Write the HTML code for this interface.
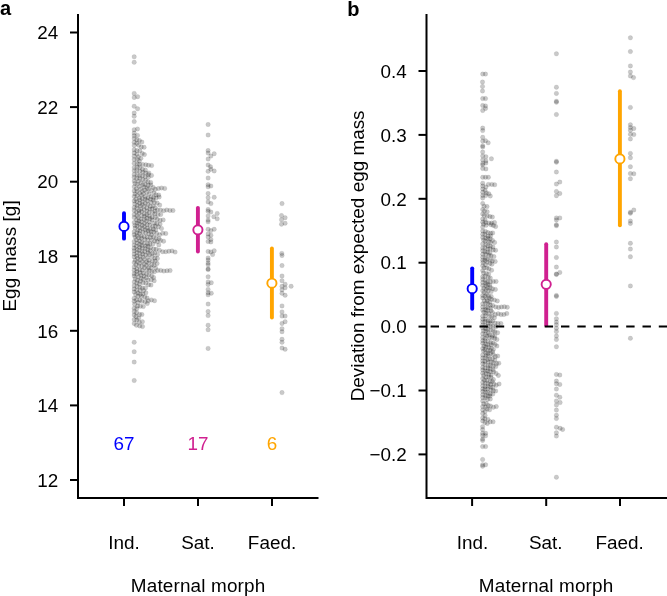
<!DOCTYPE html><html><head><meta charset="utf-8"><style>html,body{margin:0;padding:0;background:#fff;}svg{display:block;will-change:transform;font-family:"Liberation Sans",sans-serif}</style></head><body>
<svg width="667" height="596" viewBox="0 0 667 596">
<text x="0" y="15" font-size="20" font-weight="bold">a</text>
<text x="347.3" y="16" font-size="20" font-weight="bold">b</text>
<g stroke="#000" stroke-width="2" fill="none">
<path d="M78 14 V498 H318.5"/>
<path d="M70 480.0 H78"/>
<path d="M70 405.4 H78"/>
<path d="M70 330.8 H78"/>
<path d="M70 256.3 H78"/>
<path d="M70 181.7 H78"/>
<path d="M70 107.1 H78"/>
<path d="M70 32.5 H78"/>
<path d="M124 498 V506"/>
<path d="M198 498 V506"/>
<path d="M272 498 V506"/>
<path d="M426.5 14 V498 H667"/>
<path d="M418.5 454.4 H426.5"/>
<path d="M418.5 390.5 H426.5"/>
<path d="M418.5 326.6 H426.5"/>
<path d="M418.5 262.7 H426.5"/>
<path d="M418.5 198.8 H426.5"/>
<path d="M418.5 134.9 H426.5"/>
<path d="M418.5 71.0 H426.5"/>
<path d="M472.1 498 V506"/>
<path d="M546.2 498 V506"/>
<path d="M620 498 V506"/>
</g>
<g font-size="18.85" text-anchor="end">
<text x="58.3" y="486.7">12</text>
<text x="58.3" y="412.1">14</text>
<text x="58.3" y="337.5">16</text>
<text x="58.3" y="263.0">18</text>
<text x="58.3" y="188.4">20</text>
<text x="58.3" y="113.8">22</text>
<text x="58.3" y="39.2">24</text>
<text x="406.8" y="461.1">−0.2</text>
<text x="406.8" y="397.2">−0.1</text>
<text x="406.8" y="333.3">0.0</text>
<text x="406.8" y="269.4">0.1</text>
<text x="406.8" y="205.5">0.2</text>
<text x="406.8" y="141.6">0.3</text>
<text x="406.8" y="77.7">0.4</text>
</g>
<g font-size="18.9" text-anchor="middle">
<text x="124" y="549">Ind.</text>
<text x="198" y="549">Sat.</text>
<text x="272" y="549">Faed.</text>
<text x="472.4" y="549">Ind.</text>
<text x="545.8" y="549">Sat.</text>
<text x="619.7" y="549">Faed.</text>
<text x="198.1" y="591.6" letter-spacing="0.16">Maternal morph</text>
<text x="546.1" y="591.6" letter-spacing="0.16">Maternal morph</text>
<text transform="translate(15.9 255.9) rotate(-90)" letter-spacing="0.1">Egg mass [g]</text>
<text transform="translate(363.8 255.9) rotate(-90)">Deviation from expected egg mass</text>
</g>
<g font-size="18.85" text-anchor="middle">
<text x="124" y="450" fill="#0000ff">67</text>
<text x="198" y="450" fill="#d02090">17</text>
<text x="272" y="450" fill="#ffa500">6</text>
</g>
<g fill="#000" fill-opacity="0.21" stroke="#000" stroke-opacity="0.1" stroke-width="0.7"><circle cx="134.2" cy="56.8" r="2.25"/><circle cx="134.2" cy="62.3" r="2.25"/><circle cx="134.2" cy="93.4" r="2.25"/><circle cx="134.2" cy="97.4" r="2.25"/><circle cx="137.6" cy="96.7" r="2.25"/><circle cx="134.2" cy="106.3" r="2.25"/><circle cx="137.6" cy="108.8" r="2.25"/><circle cx="134.2" cy="113.0" r="2.25"/><circle cx="134.2" cy="116.3" r="2.25"/><circle cx="134.2" cy="121.6" r="2.25"/><circle cx="134.2" cy="129.7" r="2.25"/><circle cx="137.5" cy="129.0" r="2.25"/><circle cx="134.2" cy="133.1" r="2.25"/><circle cx="134.2" cy="135.7" r="2.25"/><circle cx="137.5" cy="135.4" r="2.25"/><circle cx="134.2" cy="342.3" r="2.25"/><circle cx="134.2" cy="351.7" r="2.25"/><circle cx="134.2" cy="362.1" r="2.25"/><circle cx="134.2" cy="380.5" r="2.25"/><circle cx="134.2" cy="138.5" r="2.25"/><circle cx="136.8" cy="139.8" r="2.25"/><circle cx="139.4" cy="140.6" r="2.25"/><circle cx="134.2" cy="142.3" r="2.25"/><circle cx="141.9" cy="142.1" r="2.25"/><circle cx="136.8" cy="143.3" r="2.25"/><circle cx="134.2" cy="145.4" r="2.25"/><circle cx="138.6" cy="145.2" r="2.25"/><circle cx="141.3" cy="147.0" r="2.25"/><circle cx="144.1" cy="147.3" r="2.25"/><circle cx="134.2" cy="149.7" r="2.25"/><circle cx="136.9" cy="150.6" r="2.25"/><circle cx="139.8" cy="150.8" r="2.25"/><circle cx="134.2" cy="152.9" r="2.25"/><circle cx="142.2" cy="153.5" r="2.25"/><circle cx="136.9" cy="154.3" r="2.25"/><circle cx="144.4" cy="154.6" r="2.25"/><circle cx="134.2" cy="156.2" r="2.25"/><circle cx="138.4" cy="156.8" r="2.25"/><circle cx="140.9" cy="158.3" r="2.25"/><circle cx="134.2" cy="159.6" r="2.25"/><circle cx="137.2" cy="159.5" r="2.25"/><circle cx="139.4" cy="161.0" r="2.25"/><circle cx="134.2" cy="163.3" r="2.25"/><circle cx="137.2" cy="164.0" r="2.25"/><circle cx="139.5" cy="164.3" r="2.25"/><circle cx="142.7" cy="164.5" r="2.25"/><circle cx="145.8" cy="164.8" r="2.25"/><circle cx="148.5" cy="165.3" r="2.25"/><circle cx="134.2" cy="167.4" r="2.25"/><circle cx="137.1" cy="167.2" r="2.25"/><circle cx="139.8" cy="167.6" r="2.25"/><circle cx="142.5" cy="169.3" r="2.25"/><circle cx="145.4" cy="170.0" r="2.25"/><circle cx="134.2" cy="170.7" r="2.25"/><circle cx="136.8" cy="170.7" r="2.25"/><circle cx="139.8" cy="171.2" r="2.25"/><circle cx="142.7" cy="172.3" r="2.25"/><circle cx="145.6" cy="173.0" r="2.25"/><circle cx="148.8" cy="172.9" r="2.25"/><circle cx="134.2" cy="174.6" r="2.25"/><circle cx="137.3" cy="174.8" r="2.25"/><circle cx="139.6" cy="175.7" r="2.25"/><circle cx="142.5" cy="175.7" r="2.25"/><circle cx="145.2" cy="176.7" r="2.25"/><circle cx="148.3" cy="177.3" r="2.25"/><circle cx="134.2" cy="177.2" r="2.25"/><circle cx="136.7" cy="178.6" r="2.25"/><circle cx="139.8" cy="178.3" r="2.25"/><circle cx="142.8" cy="179.6" r="2.25"/><circle cx="145.5" cy="180.6" r="2.25"/><circle cx="134.2" cy="181.1" r="2.25"/><circle cx="138.4" cy="181.2" r="2.25"/><circle cx="147.9" cy="181.8" r="2.25"/><circle cx="150.7" cy="182.4" r="2.25"/><circle cx="141.1" cy="182.8" r="2.25"/><circle cx="134.9" cy="183.4" r="2.25"/><circle cx="137.4" cy="184.2" r="2.25"/><circle cx="142.8" cy="184.7" r="2.25"/><circle cx="145.2" cy="184.4" r="2.25"/><circle cx="148.1" cy="185.3" r="2.25"/><circle cx="150.8" cy="185.1" r="2.25"/><circle cx="139.3" cy="186.4" r="2.25"/><circle cx="134.2" cy="186.8" r="2.25"/><circle cx="144.0" cy="187.1" r="2.25"/><circle cx="153.3" cy="187.6" r="2.25"/><circle cx="147.0" cy="188.0" r="2.25"/><circle cx="136.3" cy="188.8" r="2.25"/><circle cx="140.5" cy="189.0" r="2.25"/><circle cx="148.6" cy="189.1" r="2.25"/><circle cx="155.3" cy="189.3" r="2.25"/><circle cx="144.6" cy="189.9" r="2.25"/><circle cx="134.2" cy="191.0" r="2.25"/><circle cx="151.4" cy="190.5" r="2.25"/><circle cx="137.2" cy="191.2" r="2.25"/><circle cx="142.3" cy="191.3" r="2.25"/><circle cx="146.8" cy="192.3" r="2.25"/><circle cx="153.9" cy="193.1" r="2.25"/><circle cx="139.5" cy="193.2" r="2.25"/><circle cx="134.9" cy="193.9" r="2.25"/><circle cx="143.4" cy="193.8" r="2.25"/><circle cx="149.1" cy="193.9" r="2.25"/><circle cx="155.9" cy="194.7" r="2.25"/><circle cx="158.7" cy="194.9" r="2.25"/><circle cx="137.1" cy="195.4" r="2.25"/><circle cx="141.4" cy="195.3" r="2.25"/><circle cx="145.3" cy="196.6" r="2.25"/><circle cx="151.1" cy="196.7" r="2.25"/><circle cx="134.2" cy="196.4" r="2.25"/><circle cx="153.7" cy="197.4" r="2.25"/><circle cx="139.3" cy="197.9" r="2.25"/><circle cx="148.0" cy="197.9" r="2.25"/><circle cx="142.4" cy="198.5" r="2.25"/><circle cx="156.1" cy="198.1" r="2.25"/><circle cx="135.8" cy="199.2" r="2.25"/><circle cx="145.2" cy="199.1" r="2.25"/><circle cx="150.5" cy="199.3" r="2.25"/><circle cx="153.1" cy="200.1" r="2.25"/><circle cx="139.9" cy="200.1" r="2.25"/><circle cx="147.1" cy="200.6" r="2.25"/><circle cx="134.2" cy="200.9" r="2.25"/><circle cx="142.5" cy="201.7" r="2.25"/><circle cx="137.0" cy="201.8" r="2.25"/><circle cx="150.8" cy="202.3" r="2.25"/><circle cx="154.3" cy="202.6" r="2.25"/><circle cx="157.2" cy="203.1" r="2.25"/><circle cx="139.5" cy="203.3" r="2.25"/><circle cx="145.3" cy="203.2" r="2.25"/><circle cx="134.7" cy="204.1" r="2.25"/><circle cx="147.9" cy="204.2" r="2.25"/><circle cx="142.3" cy="204.4" r="2.25"/><circle cx="159.7" cy="205.1" r="2.25"/><circle cx="137.3" cy="205.6" r="2.25"/><circle cx="150.3" cy="206.2" r="2.25"/><circle cx="153.3" cy="206.0" r="2.25"/><circle cx="140.3" cy="206.1" r="2.25"/><circle cx="144.1" cy="206.5" r="2.25"/><circle cx="134.2" cy="207.4" r="2.25"/><circle cx="146.8" cy="207.8" r="2.25"/><circle cx="155.2" cy="207.7" r="2.25"/><circle cx="136.8" cy="208.1" r="2.25"/><circle cx="140.9" cy="209.0" r="2.25"/><circle cx="149.8" cy="208.9" r="2.25"/><circle cx="152.0" cy="209.1" r="2.25"/><circle cx="144.2" cy="209.7" r="2.25"/><circle cx="157.3" cy="209.9" r="2.25"/><circle cx="134.2" cy="210.4" r="2.25"/><circle cx="139.0" cy="210.8" r="2.25"/><circle cx="155.0" cy="211.0" r="2.25"/><circle cx="146.9" cy="210.9" r="2.25"/><circle cx="141.7" cy="211.6" r="2.25"/><circle cx="136.5" cy="212.1" r="2.25"/><circle cx="149.0" cy="212.5" r="2.25"/><circle cx="152.5" cy="212.7" r="2.25"/><circle cx="139.1" cy="213.1" r="2.25"/><circle cx="144.2" cy="213.9" r="2.25"/><circle cx="154.8" cy="213.9" r="2.25"/><circle cx="134.2" cy="214.4" r="2.25"/><circle cx="146.8" cy="214.7" r="2.25"/><circle cx="158.0" cy="214.6" r="2.25"/><circle cx="160.7" cy="214.5" r="2.25"/><circle cx="136.9" cy="215.7" r="2.25"/><circle cx="141.5" cy="215.6" r="2.25"/><circle cx="149.3" cy="216.0" r="2.25"/><circle cx="144.5" cy="216.2" r="2.25"/><circle cx="152.1" cy="217.3" r="2.25"/><circle cx="155.3" cy="217.4" r="2.25"/><circle cx="134.2" cy="217.6" r="2.25"/><circle cx="138.4" cy="217.5" r="2.25"/><circle cx="147.0" cy="218.2" r="2.25"/><circle cx="141.1" cy="219.1" r="2.25"/><circle cx="150.0" cy="218.6" r="2.25"/><circle cx="157.2" cy="219.3" r="2.25"/><circle cx="144.4" cy="219.3" r="2.25"/><circle cx="136.5" cy="220.0" r="2.25"/><circle cx="152.1" cy="220.1" r="2.25"/><circle cx="160.1" cy="220.2" r="2.25"/><circle cx="138.8" cy="221.0" r="2.25"/><circle cx="146.3" cy="221.0" r="2.25"/><circle cx="141.6" cy="221.8" r="2.25"/><circle cx="149.5" cy="221.9" r="2.25"/><circle cx="134.2" cy="222.5" r="2.25"/><circle cx="154.4" cy="222.9" r="2.25"/><circle cx="137.4" cy="223.0" r="2.25"/><circle cx="144.4" cy="223.2" r="2.25"/><circle cx="156.7" cy="223.5" r="2.25"/><circle cx="160.1" cy="224.1" r="2.25"/><circle cx="139.5" cy="224.1" r="2.25"/><circle cx="147.0" cy="224.7" r="2.25"/><circle cx="149.9" cy="224.9" r="2.25"/><circle cx="134.8" cy="225.4" r="2.25"/><circle cx="142.1" cy="225.3" r="2.25"/><circle cx="152.8" cy="226.4" r="2.25"/><circle cx="137.0" cy="226.0" r="2.25"/><circle cx="155.4" cy="226.1" r="2.25"/><circle cx="144.4" cy="226.6" r="2.25"/><circle cx="158.4" cy="226.8" r="2.25"/><circle cx="139.7" cy="227.8" r="2.25"/><circle cx="147.3" cy="228.3" r="2.25"/><circle cx="135.0" cy="228.1" r="2.25"/><circle cx="142.4" cy="228.5" r="2.25"/><circle cx="149.9" cy="229.2" r="2.25"/><circle cx="153.4" cy="229.0" r="2.25"/><circle cx="137.8" cy="229.9" r="2.25"/><circle cx="155.8" cy="230.0" r="2.25"/><circle cx="145.3" cy="229.8" r="2.25"/><circle cx="140.0" cy="231.0" r="2.25"/><circle cx="148.2" cy="230.7" r="2.25"/><circle cx="134.2" cy="231.8" r="2.25"/><circle cx="151.2" cy="231.6" r="2.25"/><circle cx="142.8" cy="231.9" r="2.25"/><circle cx="153.7" cy="232.1" r="2.25"/><circle cx="136.9" cy="232.7" r="2.25"/><circle cx="145.7" cy="232.7" r="2.25"/><circle cx="156.7" cy="233.4" r="2.25"/><circle cx="139.3" cy="233.7" r="2.25"/><circle cx="148.7" cy="233.7" r="2.25"/><circle cx="159.5" cy="234.8" r="2.25"/><circle cx="134.2" cy="234.7" r="2.25"/><circle cx="151.4" cy="234.7" r="2.25"/><circle cx="137.1" cy="235.8" r="2.25"/><circle cx="141.3" cy="236.0" r="2.25"/><circle cx="144.2" cy="236.6" r="2.25"/><circle cx="153.6" cy="236.8" r="2.25"/><circle cx="147.2" cy="237.1" r="2.25"/><circle cx="135.0" cy="237.0" r="2.25"/><circle cx="138.6" cy="238.0" r="2.25"/><circle cx="150.4" cy="237.5" r="2.25"/><circle cx="156.1" cy="238.2" r="2.25"/><circle cx="159.0" cy="238.7" r="2.25"/><circle cx="141.5" cy="238.2" r="2.25"/><circle cx="136.4" cy="239.9" r="2.25"/><circle cx="144.8" cy="239.5" r="2.25"/><circle cx="147.7" cy="240.0" r="2.25"/><circle cx="151.4" cy="240.0" r="2.25"/><circle cx="139.6" cy="240.9" r="2.25"/><circle cx="160.5" cy="240.5" r="2.25"/><circle cx="154.7" cy="241.0" r="2.25"/><circle cx="134.2" cy="241.5" r="2.25"/><circle cx="141.7" cy="242.2" r="2.25"/><circle cx="157.2" cy="241.8" r="2.25"/><circle cx="137.3" cy="242.9" r="2.25"/><circle cx="144.1" cy="243.3" r="2.25"/><circle cx="147.7" cy="243.7" r="2.25"/><circle cx="149.9" cy="243.5" r="2.25"/><circle cx="139.5" cy="244.6" r="2.25"/><circle cx="153.0" cy="244.0" r="2.25"/><circle cx="158.8" cy="244.9" r="2.25"/><circle cx="134.2" cy="244.9" r="2.25"/><circle cx="141.7" cy="245.6" r="2.25"/><circle cx="145.7" cy="246.1" r="2.25"/><circle cx="136.3" cy="246.3" r="2.25"/><circle cx="148.0" cy="246.3" r="2.25"/><circle cx="139.6" cy="247.3" r="2.25"/><circle cx="150.5" cy="247.5" r="2.25"/><circle cx="134.2" cy="248.2" r="2.25"/><circle cx="142.3" cy="248.0" r="2.25"/><circle cx="145.2" cy="248.5" r="2.25"/><circle cx="153.7" cy="249.0" r="2.25"/><circle cx="156.1" cy="249.2" r="2.25"/><circle cx="137.0" cy="249.5" r="2.25"/><circle cx="147.9" cy="250.1" r="2.25"/><circle cx="159.4" cy="250.3" r="2.25"/><circle cx="139.3" cy="250.3" r="2.25"/><circle cx="150.2" cy="250.6" r="2.25"/><circle cx="134.2" cy="250.8" r="2.25"/><circle cx="141.8" cy="251.5" r="2.25"/><circle cx="144.8" cy="251.6" r="2.25"/><circle cx="136.9" cy="252.8" r="2.25"/><circle cx="148.0" cy="252.7" r="2.25"/><circle cx="152.4" cy="253.4" r="2.25"/><circle cx="154.8" cy="252.9" r="2.25"/><circle cx="139.5" cy="253.6" r="2.25"/><circle cx="134.2" cy="254.0" r="2.25"/><circle cx="142.9" cy="253.9" r="2.25"/><circle cx="157.5" cy="254.4" r="2.25"/><circle cx="149.6" cy="254.6" r="2.25"/><circle cx="145.6" cy="255.0" r="2.25"/><circle cx="136.7" cy="255.9" r="2.25"/><circle cx="152.2" cy="256.6" r="2.25"/><circle cx="140.2" cy="256.5" r="2.25"/><circle cx="134.2" cy="256.9" r="2.25"/><circle cx="142.9" cy="257.1" r="2.25"/><circle cx="147.6" cy="257.4" r="2.25"/><circle cx="154.9" cy="258.0" r="2.25"/><circle cx="157.4" cy="258.4" r="2.25"/><circle cx="137.6" cy="258.3" r="2.25"/><circle cx="140.3" cy="259.6" r="2.25"/><circle cx="144.4" cy="259.4" r="2.25"/><circle cx="149.1" cy="260.2" r="2.25"/><circle cx="135.2" cy="260.3" r="2.25"/><circle cx="152.5" cy="260.9" r="2.25"/><circle cx="155.2" cy="261.1" r="2.25"/><circle cx="137.5" cy="261.7" r="2.25"/><circle cx="142.2" cy="261.6" r="2.25"/><circle cx="146.5" cy="261.8" r="2.25"/><circle cx="134.2" cy="262.6" r="2.25"/><circle cx="148.5" cy="263.1" r="2.25"/><circle cx="157.1" cy="263.4" r="2.25"/><circle cx="139.5" cy="263.2" r="2.25"/><circle cx="144.2" cy="264.1" r="2.25"/><circle cx="151.9" cy="264.4" r="2.25"/><circle cx="135.9" cy="264.7" r="2.25"/><circle cx="146.4" cy="265.6" r="2.25"/><circle cx="154.1" cy="265.3" r="2.25"/><circle cx="138.8" cy="266.1" r="2.25"/><circle cx="141.9" cy="266.3" r="2.25"/><circle cx="134.2" cy="266.9" r="2.25"/><circle cx="148.7" cy="267.5" r="2.25"/><circle cx="144.4" cy="267.7" r="2.25"/><circle cx="151.0" cy="267.7" r="2.25"/><circle cx="155.6" cy="268.1" r="2.25"/><circle cx="136.8" cy="268.9" r="2.25"/><circle cx="139.8" cy="270.0" r="2.25"/><circle cx="146.8" cy="269.9" r="2.25"/><circle cx="134.2" cy="270.2" r="2.25"/><circle cx="142.3" cy="270.3" r="2.25"/><circle cx="149.3" cy="270.7" r="2.25"/><circle cx="151.9" cy="271.4" r="2.25"/><circle cx="136.8" cy="271.5" r="2.25"/><circle cx="154.4" cy="271.8" r="2.25"/><circle cx="139.9" cy="272.8" r="2.25"/><circle cx="143.4" cy="273.1" r="2.25"/><circle cx="134.2" cy="273.7" r="2.25"/><circle cx="146.5" cy="274.1" r="2.25"/><circle cx="136.8" cy="274.2" r="2.25"/><circle cx="141.1" cy="275.2" r="2.25"/><circle cx="148.9" cy="274.9" r="2.25"/><circle cx="151.6" cy="275.9" r="2.25"/><circle cx="143.9" cy="276.1" r="2.25"/><circle cx="134.2" cy="276.0" r="2.25"/><circle cx="138.5" cy="276.8" r="2.25"/><circle cx="146.4" cy="277.8" r="2.25"/><circle cx="153.6" cy="277.4" r="2.25"/><circle cx="141.2" cy="278.5" r="2.25"/><circle cx="135.1" cy="278.8" r="2.25"/><circle cx="143.5" cy="279.2" r="2.25"/><circle cx="148.0" cy="280.1" r="2.25"/><circle cx="151.3" cy="279.7" r="2.25"/><circle cx="137.4" cy="280.1" r="2.25"/><circle cx="154.2" cy="280.7" r="2.25"/><circle cx="140.3" cy="281.3" r="2.25"/><circle cx="134.2" cy="281.9" r="2.25"/><circle cx="143.1" cy="282.8" r="2.25"/><circle cx="136.8" cy="283.0" r="2.25"/><circle cx="145.9" cy="283.1" r="2.25"/><circle cx="139.3" cy="284.0" r="2.25"/><circle cx="148.6" cy="284.7" r="2.25"/><circle cx="151.0" cy="285.1" r="2.25"/><circle cx="134.2" cy="285.8" r="2.25"/><circle cx="137.0" cy="286.6" r="2.25"/><circle cx="139.9" cy="287.3" r="2.25"/><circle cx="142.4" cy="288.1" r="2.25"/><circle cx="145.5" cy="288.0" r="2.25"/><circle cx="134.2" cy="289.0" r="2.25"/><circle cx="136.7" cy="290.3" r="2.25"/><circle cx="140.0" cy="290.4" r="2.25"/><circle cx="143.6" cy="290.6" r="2.25"/><circle cx="134.2" cy="291.9" r="2.25"/><circle cx="145.9" cy="292.8" r="2.25"/><circle cx="138.1" cy="293.0" r="2.25"/><circle cx="140.3" cy="294.3" r="2.25"/><circle cx="142.9" cy="294.0" r="2.25"/><circle cx="135.6" cy="294.6" r="2.25"/><circle cx="138.0" cy="296.2" r="2.25"/><circle cx="141.5" cy="296.4" r="2.25"/><circle cx="144.8" cy="296.9" r="2.25"/><circle cx="134.2" cy="298.3" r="2.25"/><circle cx="147.1" cy="298.0" r="2.25"/><circle cx="136.5" cy="299.7" r="2.25"/><circle cx="139.8" cy="299.9" r="2.25"/><circle cx="141.9" cy="301.3" r="2.25"/><circle cx="134.2" cy="301.3" r="2.25"/><circle cx="145.1" cy="301.8" r="2.25"/><circle cx="137.9" cy="302.5" r="2.25"/><circle cx="147.3" cy="303.5" r="2.25"/><circle cx="134.6" cy="304.2" r="2.25"/><circle cx="137.6" cy="305.9" r="2.25"/><circle cx="140.4" cy="306.2" r="2.25"/><circle cx="143.3" cy="306.5" r="2.25"/><circle cx="134.2" cy="308.3" r="2.25"/><circle cx="136.8" cy="308.7" r="2.25"/><circle cx="134.2" cy="311.6" r="2.25"/><circle cx="136.6" cy="312.8" r="2.25"/><circle cx="139.5" cy="314.4" r="2.25"/><circle cx="134.2" cy="315.0" r="2.25"/><circle cx="141.9" cy="314.6" r="2.25"/><circle cx="136.0" cy="316.5" r="2.25"/><circle cx="138.8" cy="318.1" r="2.25"/><circle cx="134.2" cy="319.6" r="2.25"/><circle cx="136.8" cy="320.1" r="2.25"/><circle cx="139.3" cy="322.2" r="2.25"/><circle cx="142.4" cy="321.7" r="2.25"/><circle cx="134.2" cy="323.4" r="2.25"/><circle cx="136.4" cy="325.2" r="2.25"/><circle cx="139.7" cy="325.9" r="2.25"/><circle cx="142.5" cy="326.5" r="2.25"/><circle cx="151.6" cy="165.5" r="2.25"/><circle cx="148.4" cy="174.7" r="2.25"/><circle cx="151.5" cy="175.4" r="2.25"/><circle cx="158.4" cy="188.6" r="2.25"/><circle cx="161.5" cy="188.0" r="2.25"/><circle cx="164.7" cy="188.4" r="2.25"/><circle cx="159.2" cy="197.0" r="2.25"/><circle cx="160.5" cy="210.1" r="2.25"/><circle cx="163.6" cy="210.8" r="2.25"/><circle cx="166.7" cy="210.0" r="2.25"/><circle cx="169.9" cy="210.4" r="2.25"/><circle cx="173.0" cy="210.5" r="2.25"/><circle cx="163.2" cy="219.9" r="2.25"/><circle cx="161.5" cy="228.4" r="2.25"/><circle cx="162.7" cy="233.3" r="2.25"/><circle cx="165.8" cy="233.5" r="2.25"/><circle cx="163.6" cy="241.2" r="2.25"/><circle cx="162.6" cy="251.7" r="2.25"/><circle cx="165.7" cy="251.7" r="2.25"/><circle cx="168.9" cy="251.3" r="2.25"/><circle cx="172.0" cy="250.9" r="2.25"/><circle cx="175.1" cy="252.1" r="2.25"/><circle cx="157.6" cy="270.4" r="2.25"/><circle cx="160.7" cy="270.4" r="2.25"/><circle cx="163.8" cy="271.1" r="2.25"/><circle cx="167.0" cy="270.7" r="2.25"/><circle cx="170.1" cy="270.6" r="2.25"/><circle cx="148.3" cy="300.8" r="2.25"/><circle cx="151.4" cy="299.9" r="2.25"/><circle cx="154.5" cy="300.7" r="2.25"/><circle cx="208.1" cy="124.5" r="2.25"/><circle cx="208.1" cy="135.0" r="2.25"/><circle cx="208.1" cy="150.6" r="2.25"/><circle cx="208.1" cy="153.1" r="2.25"/><circle cx="214.2" cy="153.7" r="2.25"/><circle cx="210.9" cy="156.1" r="2.25"/><circle cx="208.1" cy="159.0" r="2.25"/><circle cx="208.1" cy="165.0" r="2.25"/><circle cx="210.5" cy="166.7" r="2.25"/><circle cx="210.9" cy="169.2" r="2.25"/><circle cx="214.2" cy="170.9" r="2.25"/><circle cx="208.1" cy="171.3" r="2.25"/><circle cx="208.1" cy="178.0" r="2.25"/><circle cx="208.1" cy="184.7" r="2.25"/><circle cx="210.9" cy="186.0" r="2.25"/><circle cx="208.1" cy="186.8" r="2.25"/><circle cx="208.1" cy="193.5" r="2.25"/><circle cx="208.1" cy="197.7" r="2.25"/><circle cx="214.2" cy="197.3" r="2.25"/><circle cx="208.1" cy="201.9" r="2.25"/><circle cx="210.9" cy="203.6" r="2.25"/><circle cx="208.1" cy="209.5" r="2.25"/><circle cx="208.1" cy="211.3" r="2.25"/><circle cx="210.9" cy="212.1" r="2.25"/><circle cx="217.2" cy="213.4" r="2.25"/><circle cx="208.1" cy="215.9" r="2.25"/><circle cx="213.8" cy="216.7" r="2.25"/><circle cx="217.2" cy="218.8" r="2.25"/><circle cx="208.1" cy="220.1" r="2.25"/><circle cx="208.1" cy="221.8" r="2.25"/><circle cx="208.1" cy="229.3" r="2.25"/><circle cx="210.9" cy="230.6" r="2.25"/><circle cx="214.2" cy="229.3" r="2.25"/><circle cx="208.1" cy="233.9" r="2.25"/><circle cx="210.9" cy="235.2" r="2.25"/><circle cx="208.1" cy="236.9" r="2.25"/><circle cx="210.9" cy="239.4" r="2.25"/><circle cx="208.1" cy="241.5" r="2.25"/><circle cx="210.9" cy="241.9" r="2.25"/><circle cx="208.1" cy="251.5" r="2.25"/><circle cx="210.9" cy="251.9" r="2.25"/><circle cx="214.2" cy="250.7" r="2.25"/><circle cx="212.6" cy="254.6" r="2.25"/><circle cx="208.1" cy="258.0" r="2.25"/><circle cx="208.1" cy="260.0" r="2.25"/><circle cx="208.1" cy="263.0" r="2.25"/><circle cx="208.1" cy="264.7" r="2.25"/><circle cx="208.1" cy="269.0" r="2.25"/><circle cx="208.1" cy="269.6" r="2.25"/><circle cx="208.1" cy="276.8" r="2.25"/><circle cx="208.1" cy="281.9" r="2.25"/><circle cx="211.3" cy="282.7" r="2.25"/><circle cx="208.1" cy="284.4" r="2.25"/><circle cx="208.1" cy="289.4" r="2.25"/><circle cx="208.1" cy="292.7" r="2.25"/><circle cx="211.3" cy="293.2" r="2.25"/><circle cx="208.1" cy="294.8" r="2.25"/><circle cx="208.1" cy="304.1" r="2.25"/><circle cx="208.1" cy="311.6" r="2.25"/><circle cx="208.1" cy="315.6" r="2.25"/><circle cx="208.1" cy="325.2" r="2.25"/><circle cx="208.1" cy="329.7" r="2.25"/><circle cx="208.1" cy="348.4" r="2.25"/><circle cx="282.0" cy="203.6" r="2.25"/><circle cx="281.5" cy="215.6" r="2.25"/><circle cx="285.1" cy="217.7" r="2.25"/><circle cx="281.5" cy="219.7" r="2.25"/><circle cx="285.1" cy="223.2" r="2.25"/><circle cx="281.5" cy="224.2" r="2.25"/><circle cx="281.8" cy="253.4" r="2.25"/><circle cx="282.0" cy="255.5" r="2.25"/><circle cx="282.0" cy="265.6" r="2.25"/><circle cx="282.0" cy="276.0" r="2.25"/><circle cx="282.0" cy="280.7" r="2.25"/><circle cx="285.1" cy="284.2" r="2.25"/><circle cx="291.1" cy="286.3" r="2.25"/><circle cx="282.0" cy="286.3" r="2.25"/><circle cx="285.1" cy="287.8" r="2.25"/><circle cx="282.0" cy="289.8" r="2.25"/><circle cx="282.0" cy="293.3" r="2.25"/><circle cx="285.1" cy="295.3" r="2.25"/><circle cx="282.0" cy="305.9" r="2.25"/><circle cx="282.0" cy="311.9" r="2.25"/><circle cx="282.0" cy="316.1" r="2.25"/><circle cx="285.1" cy="316.1" r="2.25"/><circle cx="285.1" cy="321.7" r="2.25"/><circle cx="282.0" cy="323.4" r="2.25"/><circle cx="282.0" cy="328.7" r="2.25"/><circle cx="282.0" cy="331.7" r="2.25"/><circle cx="282.0" cy="339.3" r="2.25"/><circle cx="282.0" cy="342.3" r="2.25"/><circle cx="282.0" cy="348.1" r="2.25"/><circle cx="285.1" cy="349.3" r="2.25"/><circle cx="282.0" cy="392.6" r="2.25"/><circle cx="482.7" cy="74.1" r="2.25"/><circle cx="485.5" cy="74.1" r="2.25"/><circle cx="482.5" cy="82.0" r="2.25"/><circle cx="482.5" cy="86.4" r="2.25"/><circle cx="482.5" cy="91.0" r="2.25"/><circle cx="482.7" cy="98.6" r="2.25"/><circle cx="485.5" cy="98.6" r="2.25"/><circle cx="482.7" cy="105.5" r="2.25"/><circle cx="485.5" cy="105.9" r="2.25"/><circle cx="485.5" cy="108.4" r="2.25"/><circle cx="482.7" cy="110.5" r="2.25"/><circle cx="482.7" cy="128.1" r="2.25"/><circle cx="482.7" cy="130.6" r="2.25"/><circle cx="482.7" cy="137.3" r="2.25"/><circle cx="482.7" cy="141.1" r="2.25"/><circle cx="485.5" cy="140.7" r="2.25"/><circle cx="488.2" cy="142.8" r="2.25"/><circle cx="482.7" cy="145.7" r="2.25"/><circle cx="482.7" cy="147.0" r="2.25"/><circle cx="482.7" cy="152.1" r="2.25"/><circle cx="482.7" cy="155.9" r="2.25"/><circle cx="485.9" cy="156.7" r="2.25"/><circle cx="491.4" cy="158.8" r="2.25"/><circle cx="482.7" cy="160.1" r="2.25"/><circle cx="485.9" cy="160.9" r="2.25"/><circle cx="482.7" cy="163.5" r="2.25"/><circle cx="485.9" cy="163.0" r="2.25"/><circle cx="482.7" cy="165.1" r="2.25"/><circle cx="482.7" cy="168.5" r="2.25"/><circle cx="485.9" cy="168.9" r="2.25"/><circle cx="482.7" cy="177.3" r="2.25"/><circle cx="485.5" cy="177.3" r="2.25"/><circle cx="488.4" cy="177.3" r="2.25"/><circle cx="482.7" cy="183.2" r="2.25"/><circle cx="488.4" cy="184.4" r="2.25"/><circle cx="491.8" cy="184.4" r="2.25"/><circle cx="494.7" cy="184.8" r="2.25"/><circle cx="482.7" cy="186.1" r="2.25"/><circle cx="485.9" cy="187.0" r="2.25"/><circle cx="482.6" cy="426.7" r="2.25"/><circle cx="482.6" cy="429.6" r="2.25"/><circle cx="482.6" cy="433.2" r="2.25"/><circle cx="485.6" cy="433.2" r="2.25"/><circle cx="482.6" cy="435.5" r="2.25"/><circle cx="485.6" cy="435.8" r="2.25"/><circle cx="482.6" cy="439.0" r="2.25"/><circle cx="482.6" cy="440.4" r="2.25"/><circle cx="482.6" cy="446.6" r="2.25"/><circle cx="485.6" cy="446.6" r="2.25"/><circle cx="482.6" cy="459.5" r="2.25"/><circle cx="482.6" cy="464.8" r="2.25"/><circle cx="485.6" cy="464.8" r="2.25"/><circle cx="482.6" cy="466.2" r="2.25"/><circle cx="482.7" cy="189.0" r="2.25"/><circle cx="485.1" cy="190.5" r="2.25"/><circle cx="482.7" cy="192.3" r="2.25"/><circle cx="486.4" cy="193.0" r="2.25"/><circle cx="488.8" cy="193.8" r="2.25"/><circle cx="482.7" cy="195.5" r="2.25"/><circle cx="485.7" cy="195.6" r="2.25"/><circle cx="490.3" cy="196.0" r="2.25"/><circle cx="482.7" cy="198.0" r="2.25"/><circle cx="482.7" cy="203.5" r="2.25"/><circle cx="484.1" cy="206.3" r="2.25"/><circle cx="487.0" cy="206.6" r="2.25"/><circle cx="482.7" cy="209.5" r="2.25"/><circle cx="484.5" cy="211.1" r="2.25"/><circle cx="487.2" cy="211.8" r="2.25"/><circle cx="482.7" cy="214.0" r="2.25"/><circle cx="484.3" cy="215.4" r="2.25"/><circle cx="487.2" cy="215.9" r="2.25"/><circle cx="489.9" cy="216.6" r="2.25"/><circle cx="492.4" cy="217.1" r="2.25"/><circle cx="482.7" cy="219.0" r="2.25"/><circle cx="485.1" cy="220.1" r="2.25"/><circle cx="482.7" cy="222.2" r="2.25"/><circle cx="485.8" cy="222.6" r="2.25"/><circle cx="488.7" cy="222.9" r="2.25"/><circle cx="483.5" cy="224.2" r="2.25"/><circle cx="491.0" cy="224.7" r="2.25"/><circle cx="486.2" cy="225.2" r="2.25"/><circle cx="493.4" cy="225.5" r="2.25"/><circle cx="495.6" cy="226.5" r="2.25"/><circle cx="482.7" cy="227.1" r="2.25"/><circle cx="482.7" cy="230.9" r="2.25"/><circle cx="485.4" cy="231.4" r="2.25"/><circle cx="487.8" cy="232.6" r="2.25"/><circle cx="490.6" cy="233.2" r="2.25"/><circle cx="492.7" cy="232.9" r="2.25"/><circle cx="482.7" cy="234.3" r="2.25"/><circle cx="485.0" cy="234.6" r="2.25"/><circle cx="487.9" cy="236.3" r="2.25"/><circle cx="490.6" cy="236.1" r="2.25"/><circle cx="482.7" cy="237.4" r="2.25"/><circle cx="485.7" cy="238.0" r="2.25"/><circle cx="487.9" cy="238.5" r="2.25"/><circle cx="490.2" cy="238.7" r="2.25"/><circle cx="483.5" cy="239.9" r="2.25"/><circle cx="492.5" cy="240.4" r="2.25"/><circle cx="485.3" cy="241.3" r="2.25"/><circle cx="488.5" cy="241.8" r="2.25"/><circle cx="494.6" cy="242.4" r="2.25"/><circle cx="490.5" cy="242.6" r="2.25"/><circle cx="482.7" cy="244.0" r="2.25"/><circle cx="485.7" cy="244.4" r="2.25"/><circle cx="487.8" cy="245.9" r="2.25"/><circle cx="490.4" cy="246.1" r="2.25"/><circle cx="492.9" cy="246.9" r="2.25"/><circle cx="482.7" cy="248.0" r="2.25"/><circle cx="485.1" cy="247.7" r="2.25"/><circle cx="487.7" cy="249.2" r="2.25"/><circle cx="490.1" cy="248.8" r="2.25"/><circle cx="493.2" cy="249.9" r="2.25"/><circle cx="495.6" cy="250.3" r="2.25"/><circle cx="482.7" cy="250.7" r="2.25"/><circle cx="484.9" cy="252.1" r="2.25"/><circle cx="487.5" cy="252.1" r="2.25"/><circle cx="490.0" cy="253.0" r="2.25"/><circle cx="482.7" cy="254.3" r="2.25"/><circle cx="485.8" cy="254.3" r="2.25"/><circle cx="488.9" cy="255.3" r="2.25"/><circle cx="491.0" cy="255.8" r="2.25"/><circle cx="482.7" cy="257.3" r="2.25"/><circle cx="485.3" cy="258.0" r="2.25"/><circle cx="487.3" cy="259.3" r="2.25"/><circle cx="490.4" cy="259.8" r="2.25"/><circle cx="482.7" cy="260.2" r="2.25"/><circle cx="485.2" cy="260.4" r="2.25"/><circle cx="492.3" cy="260.9" r="2.25"/><circle cx="487.1" cy="262.2" r="2.25"/><circle cx="482.9" cy="262.6" r="2.25"/><circle cx="489.9" cy="263.4" r="2.25"/><circle cx="485.5" cy="264.7" r="2.25"/><circle cx="491.9" cy="264.2" r="2.25"/><circle cx="482.7" cy="265.7" r="2.25"/><circle cx="484.1" cy="267.7" r="2.25"/><circle cx="486.8" cy="268.0" r="2.25"/><circle cx="488.9" cy="268.8" r="2.25"/><circle cx="491.6" cy="270.2" r="2.25"/><circle cx="482.7" cy="270.6" r="2.25"/><circle cx="483.5" cy="272.9" r="2.25"/><circle cx="486.4" cy="273.4" r="2.25"/><circle cx="488.7" cy="273.9" r="2.25"/><circle cx="482.7" cy="276.8" r="2.25"/><circle cx="485.0" cy="276.2" r="2.25"/><circle cx="488.2" cy="277.6" r="2.25"/><circle cx="490.3" cy="278.1" r="2.25"/><circle cx="482.7" cy="279.4" r="2.25"/><circle cx="485.2" cy="280.3" r="2.25"/><circle cx="487.5" cy="281.7" r="2.25"/><circle cx="490.4" cy="281.8" r="2.25"/><circle cx="482.7" cy="282.5" r="2.25"/><circle cx="485.6" cy="283.2" r="2.25"/><circle cx="487.7" cy="284.3" r="2.25"/><circle cx="489.9" cy="284.9" r="2.25"/><circle cx="482.7" cy="285.5" r="2.25"/><circle cx="485.7" cy="285.7" r="2.25"/><circle cx="487.7" cy="287.8" r="2.25"/><circle cx="490.2" cy="287.4" r="2.25"/><circle cx="483.9" cy="288.2" r="2.25"/><circle cx="492.5" cy="288.8" r="2.25"/><circle cx="486.2" cy="289.5" r="2.25"/><circle cx="488.3" cy="290.7" r="2.25"/><circle cx="482.7" cy="290.7" r="2.25"/><circle cx="491.2" cy="291.6" r="2.25"/><circle cx="484.2" cy="292.5" r="2.25"/><circle cx="486.6" cy="293.9" r="2.25"/><circle cx="482.7" cy="295.5" r="2.25"/><circle cx="488.4" cy="295.6" r="2.25"/><circle cx="484.9" cy="296.2" r="2.25"/><circle cx="491.2" cy="296.5" r="2.25"/><circle cx="482.7" cy="298.0" r="2.25"/><circle cx="486.7" cy="298.5" r="2.25"/><circle cx="489.4" cy="298.1" r="2.25"/><circle cx="491.5" cy="299.3" r="2.25"/><circle cx="484.2" cy="300.8" r="2.25"/><circle cx="487.2" cy="300.8" r="2.25"/><circle cx="489.9" cy="302.1" r="2.25"/><circle cx="485.5" cy="303.3" r="2.25"/><circle cx="487.9" cy="303.5" r="2.25"/><circle cx="482.7" cy="303.8" r="2.25"/><circle cx="490.3" cy="305.3" r="2.25"/><circle cx="492.8" cy="305.5" r="2.25"/><circle cx="482.7" cy="306.9" r="2.25"/><circle cx="485.6" cy="307.2" r="2.25"/><circle cx="487.7" cy="307.8" r="2.25"/><circle cx="490.6" cy="308.1" r="2.25"/><circle cx="482.7" cy="310.1" r="2.25"/><circle cx="485.6" cy="309.7" r="2.25"/><circle cx="487.6" cy="310.6" r="2.25"/><circle cx="491.0" cy="310.8" r="2.25"/><circle cx="483.8" cy="312.3" r="2.25"/><circle cx="492.4" cy="312.4" r="2.25"/><circle cx="485.8" cy="313.3" r="2.25"/><circle cx="488.5" cy="313.4" r="2.25"/><circle cx="482.7" cy="316.2" r="2.25"/><circle cx="485.3" cy="315.9" r="2.25"/><circle cx="489.6" cy="316.4" r="2.25"/><circle cx="491.7" cy="316.8" r="2.25"/><circle cx="494.4" cy="317.7" r="2.25"/><circle cx="482.7" cy="319.2" r="2.25"/><circle cx="485.5" cy="319.2" r="2.25"/><circle cx="487.9" cy="320.7" r="2.25"/><circle cx="490.3" cy="320.9" r="2.25"/><circle cx="492.6" cy="321.1" r="2.25"/><circle cx="482.7" cy="321.9" r="2.25"/><circle cx="485.1" cy="321.6" r="2.25"/><circle cx="495.1" cy="323.1" r="2.25"/><circle cx="488.1" cy="323.0" r="2.25"/><circle cx="490.7" cy="323.6" r="2.25"/><circle cx="482.7" cy="324.9" r="2.25"/><circle cx="485.4" cy="325.4" r="2.25"/><circle cx="487.7" cy="326.1" r="2.25"/><circle cx="490.5" cy="326.4" r="2.25"/><circle cx="493.0" cy="326.5" r="2.25"/><circle cx="495.8" cy="326.8" r="2.25"/><circle cx="482.7" cy="327.8" r="2.25"/><circle cx="485.5" cy="328.8" r="2.25"/><circle cx="487.8" cy="329.3" r="2.25"/><circle cx="490.6" cy="330.0" r="2.25"/><circle cx="483.4" cy="330.8" r="2.25"/><circle cx="493.1" cy="331.1" r="2.25"/><circle cx="485.8" cy="331.0" r="2.25"/><circle cx="494.9" cy="331.8" r="2.25"/><circle cx="488.2" cy="332.7" r="2.25"/><circle cx="497.6" cy="332.7" r="2.25"/><circle cx="482.7" cy="333.8" r="2.25"/><circle cx="485.4" cy="334.4" r="2.25"/><circle cx="489.5" cy="334.7" r="2.25"/><circle cx="492.5" cy="335.3" r="2.25"/><circle cx="494.7" cy="336.0" r="2.25"/><circle cx="487.0" cy="336.1" r="2.25"/><circle cx="482.7" cy="337.4" r="2.25"/><circle cx="489.5" cy="337.5" r="2.25"/><circle cx="491.9" cy="337.8" r="2.25"/><circle cx="485.1" cy="338.3" r="2.25"/><circle cx="494.6" cy="338.4" r="2.25"/><circle cx="496.9" cy="339.4" r="2.25"/><circle cx="482.7" cy="340.7" r="2.25"/><circle cx="485.1" cy="340.7" r="2.25"/><circle cx="488.0" cy="341.2" r="2.25"/><circle cx="490.7" cy="342.5" r="2.25"/><circle cx="493.1" cy="343.1" r="2.25"/><circle cx="482.7" cy="343.3" r="2.25"/><circle cx="485.7" cy="344.0" r="2.25"/><circle cx="487.6" cy="344.7" r="2.25"/><circle cx="495.1" cy="344.5" r="2.25"/><circle cx="491.0" cy="344.8" r="2.25"/><circle cx="483.9" cy="345.9" r="2.25"/><circle cx="496.9" cy="346.0" r="2.25"/><circle cx="485.9" cy="347.3" r="2.25"/><circle cx="488.8" cy="347.2" r="2.25"/><circle cx="491.4" cy="348.1" r="2.25"/><circle cx="482.7" cy="348.6" r="2.25"/><circle cx="493.4" cy="349.4" r="2.25"/><circle cx="485.0" cy="349.5" r="2.25"/><circle cx="488.0" cy="350.5" r="2.25"/><circle cx="490.1" cy="350.5" r="2.25"/><circle cx="483.4" cy="351.1" r="2.25"/><circle cx="492.6" cy="351.8" r="2.25"/><circle cx="485.6" cy="352.7" r="2.25"/><circle cx="487.9" cy="353.4" r="2.25"/><circle cx="490.6" cy="353.5" r="2.25"/><circle cx="482.7" cy="355.0" r="2.25"/><circle cx="493.3" cy="354.5" r="2.25"/><circle cx="486.1" cy="355.4" r="2.25"/><circle cx="488.5" cy="355.8" r="2.25"/><circle cx="495.3" cy="356.5" r="2.25"/><circle cx="497.7" cy="356.1" r="2.25"/><circle cx="482.7" cy="357.9" r="2.25"/><circle cx="485.2" cy="357.7" r="2.25"/><circle cx="489.8" cy="358.7" r="2.25"/><circle cx="492.4" cy="358.7" r="2.25"/><circle cx="487.5" cy="359.7" r="2.25"/><circle cx="494.9" cy="360.0" r="2.25"/><circle cx="482.7" cy="360.9" r="2.25"/><circle cx="485.1" cy="361.4" r="2.25"/><circle cx="488.2" cy="361.8" r="2.25"/><circle cx="491.2" cy="362.2" r="2.25"/><circle cx="493.3" cy="362.8" r="2.25"/><circle cx="496.6" cy="363.6" r="2.25"/><circle cx="498.8" cy="363.2" r="2.25"/><circle cx="482.7" cy="363.7" r="2.25"/><circle cx="485.0" cy="364.3" r="2.25"/><circle cx="488.2" cy="365.5" r="2.25"/><circle cx="490.4" cy="365.5" r="2.25"/><circle cx="493.2" cy="366.2" r="2.25"/><circle cx="495.8" cy="366.6" r="2.25"/><circle cx="482.7" cy="367.6" r="2.25"/><circle cx="485.0" cy="368.1" r="2.25"/><circle cx="488.1" cy="367.9" r="2.25"/><circle cx="490.2" cy="369.1" r="2.25"/><circle cx="493.0" cy="369.7" r="2.25"/><circle cx="482.7" cy="370.1" r="2.25"/><circle cx="485.4" cy="371.1" r="2.25"/><circle cx="487.6" cy="370.9" r="2.25"/><circle cx="490.3" cy="371.7" r="2.25"/><circle cx="493.7" cy="371.7" r="2.25"/><circle cx="482.7" cy="373.3" r="2.25"/><circle cx="486.1" cy="373.5" r="2.25"/><circle cx="496.1" cy="373.4" r="2.25"/><circle cx="488.7" cy="374.3" r="2.25"/><circle cx="491.2" cy="374.9" r="2.25"/><circle cx="498.4" cy="375.4" r="2.25"/><circle cx="483.7" cy="375.6" r="2.25"/><circle cx="485.9" cy="377.3" r="2.25"/><circle cx="488.7" cy="377.1" r="2.25"/><circle cx="491.0" cy="377.4" r="2.25"/><circle cx="482.7" cy="378.6" r="2.25"/><circle cx="493.4" cy="379.5" r="2.25"/><circle cx="484.5" cy="380.3" r="2.25"/><circle cx="487.1" cy="380.3" r="2.25"/><circle cx="490.0" cy="381.5" r="2.25"/><circle cx="492.3" cy="381.6" r="2.25"/><circle cx="482.7" cy="382.4" r="2.25"/><circle cx="485.2" cy="382.9" r="2.25"/><circle cx="487.9" cy="383.7" r="2.25"/><circle cx="490.6" cy="384.3" r="2.25"/><circle cx="494.0" cy="384.0" r="2.25"/><circle cx="482.7" cy="385.7" r="2.25"/><circle cx="496.2" cy="385.2" r="2.25"/><circle cx="485.1" cy="386.7" r="2.25"/><circle cx="487.9" cy="386.3" r="2.25"/><circle cx="490.6" cy="386.9" r="2.25"/><circle cx="492.7" cy="387.6" r="2.25"/><circle cx="482.7" cy="388.9" r="2.25"/><circle cx="485.0" cy="389.3" r="2.25"/><circle cx="487.6" cy="389.1" r="2.25"/><circle cx="490.7" cy="390.0" r="2.25"/><circle cx="493.3" cy="390.6" r="2.25"/><circle cx="495.7" cy="390.9" r="2.25"/><circle cx="482.7" cy="391.4" r="2.25"/><circle cx="485.5" cy="392.3" r="2.25"/><circle cx="487.5" cy="392.5" r="2.25"/><circle cx="490.2" cy="393.7" r="2.25"/><circle cx="492.8" cy="394.1" r="2.25"/><circle cx="482.7" cy="394.7" r="2.25"/><circle cx="485.6" cy="395.5" r="2.25"/><circle cx="488.2" cy="396.0" r="2.25"/><circle cx="490.0" cy="396.1" r="2.25"/><circle cx="482.7" cy="397.4" r="2.25"/><circle cx="485.4" cy="397.8" r="2.25"/><circle cx="487.4" cy="399.5" r="2.25"/><circle cx="490.3" cy="399.0" r="2.25"/><circle cx="482.7" cy="401.0" r="2.25"/><circle cx="483.7" cy="403.7" r="2.25"/><circle cx="486.3" cy="403.6" r="2.25"/><circle cx="488.2" cy="405.4" r="2.25"/><circle cx="490.5" cy="405.9" r="2.25"/><circle cx="482.7" cy="406.6" r="2.25"/><circle cx="485.5" cy="407.1" r="2.25"/><circle cx="487.1" cy="409.0" r="2.25"/><circle cx="482.7" cy="409.9" r="2.25"/><circle cx="489.6" cy="409.8" r="2.25"/><circle cx="485.1" cy="411.5" r="2.25"/><circle cx="482.7" cy="413.6" r="2.25"/><circle cx="485.1" cy="415.4" r="2.25"/><circle cx="482.7" cy="418.0" r="2.25"/><circle cx="484.9" cy="418.8" r="2.25"/><circle cx="488.0" cy="419.4" r="2.25"/><circle cx="482.7" cy="421.1" r="2.25"/><circle cx="485.0" cy="422.4" r="2.25"/><circle cx="487.3" cy="423.4" r="2.25"/><circle cx="491.6" cy="223.0" r="2.25"/><circle cx="494.5" cy="222.5" r="2.25"/><circle cx="493.9" cy="256.6" r="2.25"/><circle cx="495.2" cy="261.4" r="2.25"/><circle cx="493.3" cy="281.6" r="2.25"/><circle cx="496.1" cy="281.4" r="2.25"/><circle cx="495.4" cy="289.4" r="2.25"/><circle cx="494.4" cy="300.1" r="2.25"/><circle cx="497.3" cy="300.9" r="2.25"/><circle cx="495.7" cy="307.0" r="2.25"/><circle cx="498.6" cy="307.4" r="2.25"/><circle cx="501.5" cy="306.9" r="2.25"/><circle cx="504.4" cy="306.8" r="2.25"/><circle cx="507.3" cy="307.2" r="2.25"/><circle cx="495.3" cy="314.6" r="2.25"/><circle cx="498.2" cy="313.8" r="2.25"/><circle cx="501.0" cy="314.6" r="2.25"/><circle cx="503.9" cy="314.5" r="2.25"/><circle cx="506.8" cy="313.6" r="2.25"/><circle cx="498.0" cy="323.5" r="2.25"/><circle cx="500.9" cy="323.6" r="2.25"/><circle cx="499.1" cy="384.0" r="2.25"/><circle cx="493.4" cy="407.2" r="2.25"/><circle cx="496.3" cy="406.6" r="2.25"/><circle cx="490.2" cy="421.8" r="2.25"/><circle cx="493.1" cy="421.8" r="2.25"/><circle cx="556.4" cy="53.8" r="2.25"/><circle cx="556.4" cy="87.2" r="2.25"/><circle cx="556.4" cy="93.4" r="2.25"/><circle cx="556.4" cy="101.2" r="2.25"/><circle cx="556.4" cy="102.2" r="2.25"/><circle cx="556.4" cy="114.5" r="2.25"/><circle cx="556.4" cy="161.2" r="2.25"/><circle cx="556.4" cy="162.2" r="2.25"/><circle cx="556.4" cy="172.0" r="2.25"/><circle cx="556.4" cy="184.1" r="2.25"/><circle cx="559.8" cy="182.1" r="2.25"/><circle cx="556.4" cy="191.5" r="2.25"/><circle cx="559.8" cy="193.5" r="2.25"/><circle cx="556.4" cy="195.7" r="2.25"/><circle cx="556.4" cy="217.9" r="2.25"/><circle cx="559.8" cy="217.9" r="2.25"/><circle cx="556.4" cy="219.9" r="2.25"/><circle cx="556.4" cy="224.8" r="2.25"/><circle cx="556.4" cy="225.8" r="2.25"/><circle cx="556.4" cy="242.0" r="2.25"/><circle cx="556.4" cy="247.0" r="2.25"/><circle cx="556.4" cy="257.5" r="2.25"/><circle cx="556.4" cy="267.1" r="2.25"/><circle cx="556.4" cy="274.5" r="2.25"/><circle cx="556.4" cy="274.0" r="2.25"/><circle cx="559.8" cy="272.4" r="2.25"/><circle cx="556.4" cy="295.4" r="2.25"/><circle cx="556.4" cy="296.4" r="2.25"/><circle cx="556.4" cy="313.4" r="2.25"/><circle cx="556.4" cy="318.8" r="2.25"/><circle cx="556.4" cy="322.1" r="2.25"/><circle cx="556.4" cy="324.8" r="2.25"/><circle cx="556.4" cy="328.2" r="2.25"/><circle cx="556.4" cy="331.5" r="2.25"/><circle cx="556.4" cy="336.1" r="2.25"/><circle cx="556.4" cy="339.5" r="2.25"/><circle cx="556.4" cy="346.8" r="2.25"/><circle cx="556.4" cy="374.4" r="2.25"/><circle cx="559.8" cy="375.0" r="2.25"/><circle cx="556.4" cy="381.1" r="2.25"/><circle cx="556.4" cy="383.8" r="2.25"/><circle cx="559.8" cy="384.4" r="2.25"/><circle cx="556.4" cy="389.1" r="2.25"/><circle cx="556.4" cy="395.2" r="2.25"/><circle cx="559.8" cy="397.2" r="2.25"/><circle cx="556.4" cy="400.9" r="2.25"/><circle cx="560.1" cy="402.6" r="2.25"/><circle cx="556.4" cy="405.1" r="2.25"/><circle cx="556.4" cy="410.1" r="2.25"/><circle cx="556.4" cy="415.2" r="2.25"/><circle cx="556.4" cy="418.5" r="2.25"/><circle cx="556.4" cy="427.2" r="2.25"/><circle cx="560.1" cy="428.3" r="2.25"/><circle cx="562.6" cy="429.4" r="2.25"/><circle cx="556.4" cy="432.8" r="2.25"/><circle cx="556.4" cy="436.1" r="2.25"/><circle cx="556.4" cy="477.2" r="2.25"/><circle cx="630.4" cy="37.8" r="2.25"/><circle cx="630.4" cy="51.6" r="2.25"/><circle cx="630.4" cy="65.9" r="2.25"/><circle cx="630.4" cy="72.0" r="2.25"/><circle cx="630.4" cy="76.0" r="2.25"/><circle cx="633.5" cy="77.6" r="2.25"/><circle cx="630.4" cy="107.4" r="2.25"/><circle cx="630.4" cy="124.8" r="2.25"/><circle cx="630.4" cy="127.5" r="2.25"/><circle cx="633.8" cy="128.5" r="2.25"/><circle cx="630.4" cy="130.2" r="2.25"/><circle cx="630.4" cy="134.2" r="2.25"/><circle cx="633.8" cy="134.6" r="2.25"/><circle cx="630.4" cy="138.9" r="2.25"/><circle cx="630.4" cy="153.4" r="2.25"/><circle cx="630.4" cy="157.7" r="2.25"/><circle cx="630.4" cy="166.7" r="2.25"/><circle cx="630.4" cy="173.6" r="2.25"/><circle cx="633.8" cy="173.8" r="2.25"/><circle cx="630.4" cy="178.7" r="2.25"/><circle cx="633.8" cy="210.0" r="2.25"/><circle cx="630.4" cy="212.2" r="2.25"/><circle cx="630.4" cy="213.2" r="2.25"/><circle cx="630.4" cy="221.0" r="2.25"/><circle cx="630.4" cy="223.4" r="2.25"/><circle cx="630.4" cy="243.3" r="2.25"/><circle cx="630.4" cy="249.1" r="2.25"/><circle cx="630.4" cy="256.8" r="2.25"/><circle cx="630.4" cy="285.9" r="2.25"/><circle cx="630.4" cy="338.3" r="2.25"/></g>
<path d="M124 213.25 V238.65" stroke="#0000ff" stroke-width="3.9" stroke-linecap="round"/>
<circle cx="124" cy="226.4" r="4.6" fill="#fff" stroke="#0000ff" stroke-width="1.9"/>
<path d="M197.9 207.85 V251.54999999999998" stroke="#d02090" stroke-width="3.9" stroke-linecap="round"/>
<circle cx="197.9" cy="229.8" r="4.6" fill="#fff" stroke="#d02090" stroke-width="1.9"/>
<path d="M271.9 248.45000000000002 V317.55" stroke="#ffa500" stroke-width="3.9" stroke-linecap="round"/>
<circle cx="271.9" cy="283.2" r="4.6" fill="#fff" stroke="#ffa500" stroke-width="1.9"/>
<path d="M472.2 268.34999999999997 V308.85" stroke="#0000ff" stroke-width="3.9" stroke-linecap="round"/>
<circle cx="472.2" cy="288.7" r="4.6" fill="#fff" stroke="#0000ff" stroke-width="1.9"/>
<path d="M546.2 244.15 V325.35" stroke="#d02090" stroke-width="3.9" stroke-linecap="round"/>
<circle cx="546.2" cy="284.3" r="4.6" fill="#fff" stroke="#d02090" stroke-width="1.9"/>
<path d="M619.9 91.15 V225.35" stroke="#ffa500" stroke-width="3.9" stroke-linecap="round"/>
<circle cx="619.9" cy="158.9" r="4.6" fill="#fff" stroke="#ffa500" stroke-width="1.9"/>
<path d="M430.6 326.6 H667" stroke="#000" stroke-width="2" stroke-dasharray="8.4 7.9"/>
</svg></body></html>
